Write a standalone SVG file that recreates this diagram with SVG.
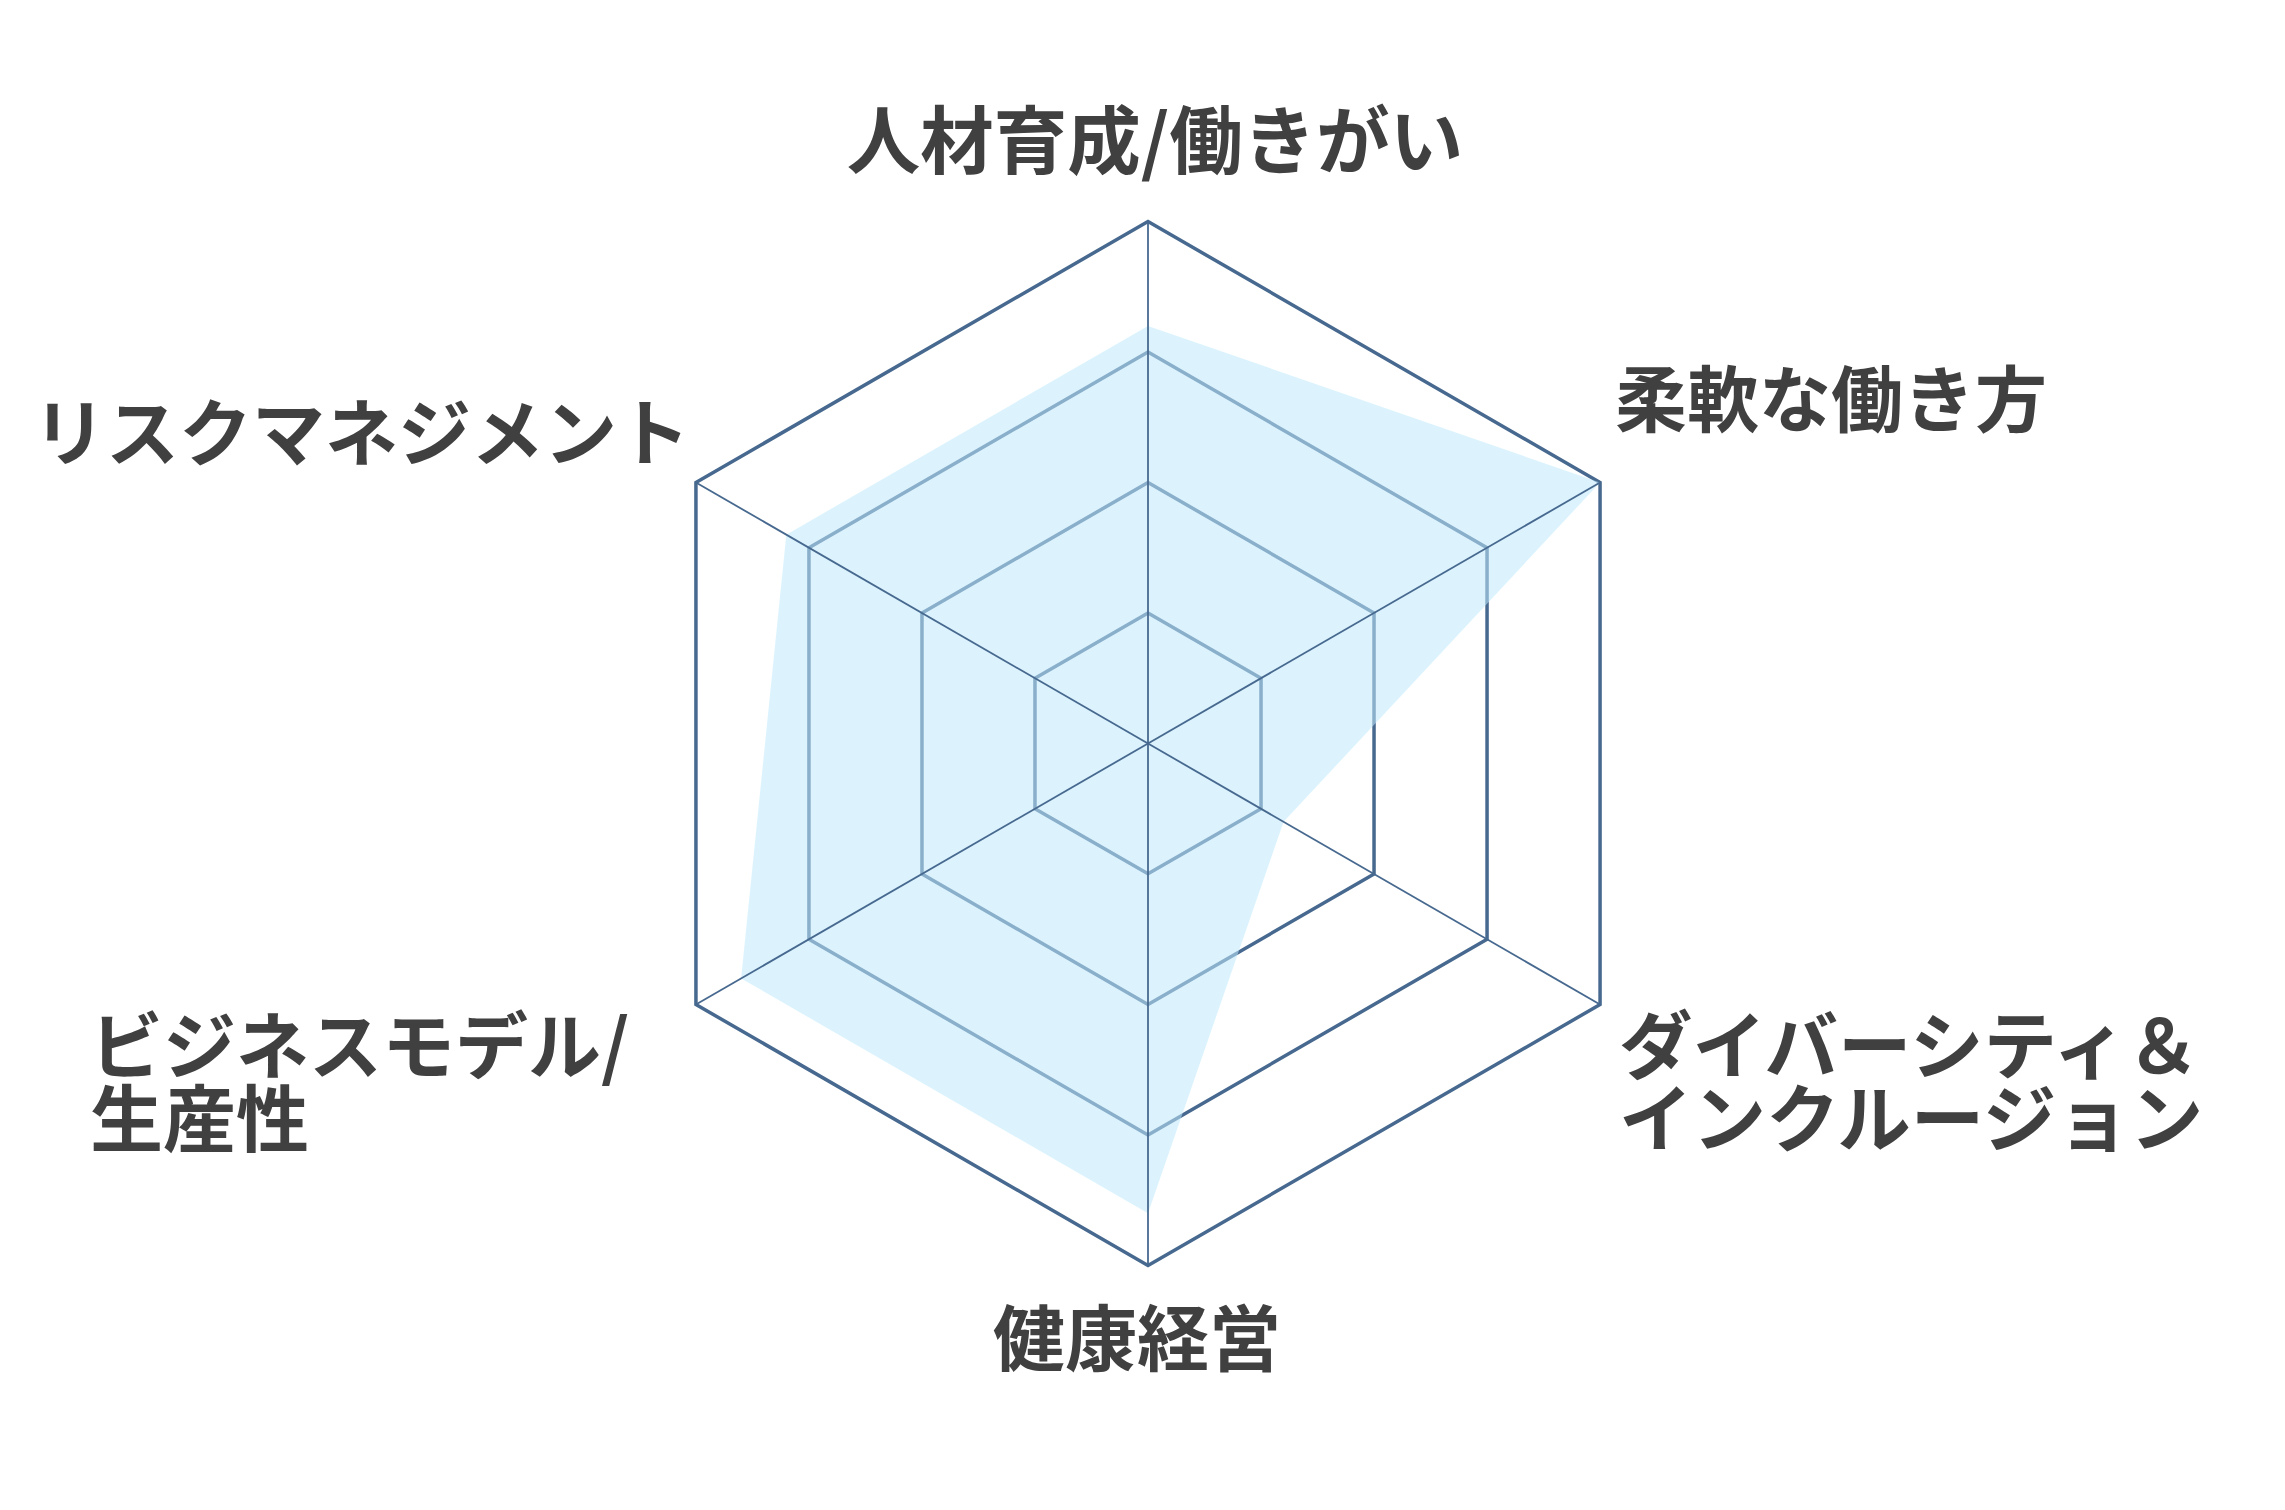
<svg xmlns="http://www.w3.org/2000/svg" width="2285" height="1510" viewBox="0 0 2285 1510">
  <style>
    .ring { fill: none; stroke: #47698f; stroke-width: 3.5; stroke-linejoin: miter; }
    .axis { stroke: #47698f; stroke-width: 1.8; }
    .data { fill: #bfeafd; fill-opacity: 0.55; stroke: none; }
    .lbl { font-family: "Noto Sans CJK JP", "Noto Sans", sans-serif; font-weight: 700; font-size: 72px; fill: #404040; }
    .lg { font-size: 73.5px; }
  </style>
  <rect x="0" y="0" width="2285" height="1510" fill="#ffffff"/>
  <g id="grid">
    <polygon class="ring" points="1148,221.5 1600.06,482.5 1600.06,1004.5 1148,1265.5 695.94,1004.5 695.94,482.5"/>
    <polygon class="ring" points="1148,352 1487.05,547.75 1487.05,939.25 1148,1135 808.95,939.25 808.95,547.75"/>
    <polygon class="ring" points="1148,482.5 1374.03,613 1374.03,874 1148,1004.5 921.97,874 921.97,613"/>
    <polygon class="ring" points="1148,613 1261.02,678.25 1261.02,808.75 1148,873.75 1034.98,808.75 1034.98,678.25"/>
  </g>
  <g id="data">
    <polygon class="data" points="1148,325.9 1600.06,482.5 1283.6,821.8 1148,1213.3 741.1,978.4 786.3,534.7"/>
  </g>
  <g id="connectors">
    <line class="axis" x1="1148" y1="743.5" x2="1148" y2="221.5"/>
    <line class="axis" x1="1148" y1="743.5" x2="1600.06" y2="482.5"/>
    <line class="axis" x1="1148" y1="743.5" x2="1600.06" y2="1004.5"/>
    <line class="axis" x1="1148" y1="743.5" x2="1148" y2="1265.5"/>
    <line class="axis" x1="1148" y1="743.5" x2="695.94" y2="1004.5"/>
    <line class="axis" x1="1148" y1="743.5" x2="695.94" y2="482.5"/>
  </g>
  <g id="label-top">
    <text class="lbl lg" x="1155" y="168" text-anchor="middle">人材育成/働きがい</text>
  </g>
  <g id="label-upper-right">
    <text class="lbl" x="1615" y="426">柔軟な働き方</text>
  </g>
  <g id="label-lower-right">
    <text class="lbl lg" x="1619" y="1073">ダイバーシティ＆</text>
    <text class="lbl lg" x="1619" y="1146">インクルージョン</text>
  </g>
  <g id="label-bottom">
    <text class="lbl" x="1137" y="1365" text-anchor="middle">健康経営</text>
  </g>
  <g id="label-lower-left">
    <text class="lbl" x="90" y="1073" style="font-size:73px">ビジネスモデル/</text>
    <text class="lbl" x="90" y="1146" style="font-size:73px">生産性</text>
  </g>
  <g id="label-upper-left">
    <text class="lbl" x="33" y="460" style="font-size:73px">リスクマネジメント</text>
  </g>
</svg>
